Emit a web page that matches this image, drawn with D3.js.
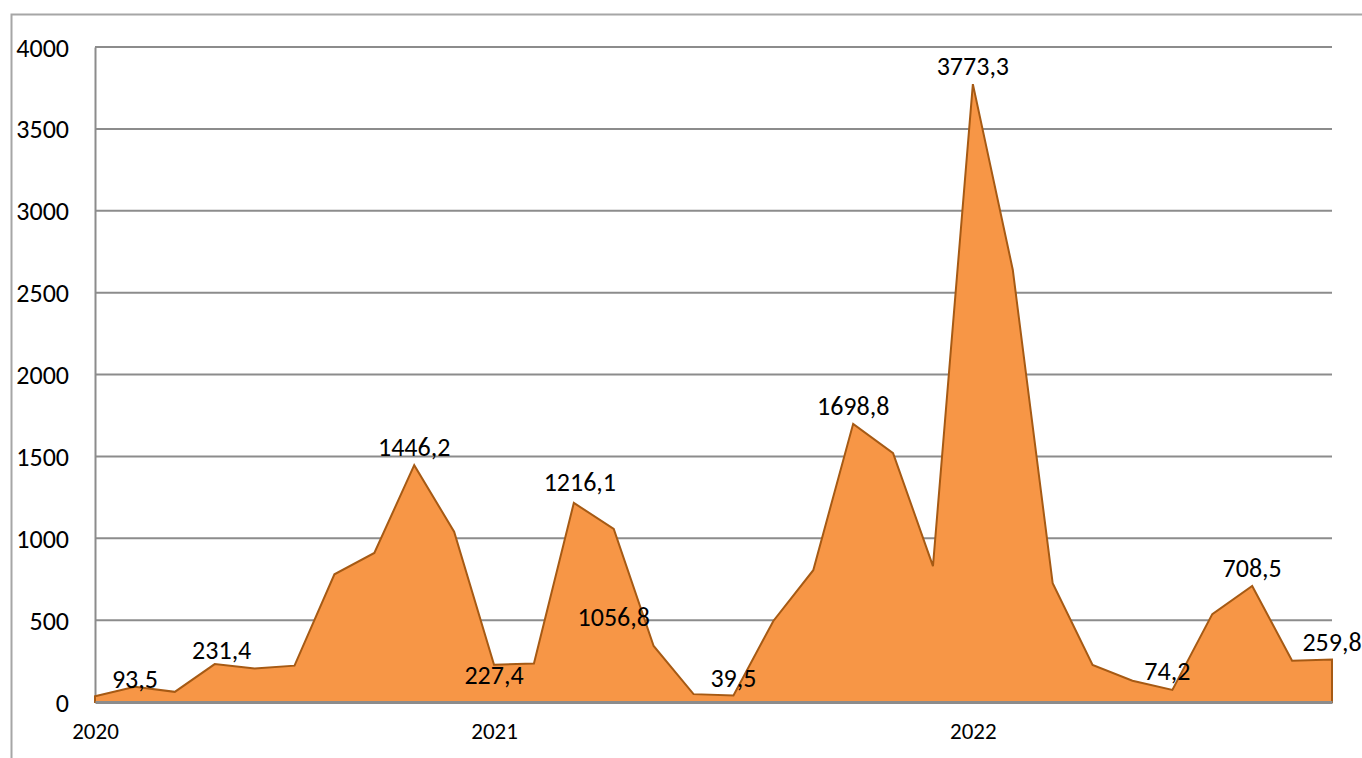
<!DOCTYPE html>
<html>
<head>
<meta charset="utf-8">
<script src="https://cdn.jsdelivr.net/npm/d3@7"></script>
<style>
  html, body { margin: 0; padding: 0; background: #fff; }
  svg text { font-family: Carlito, Calibri, Lato, "Open Sans", sans-serif; fill: #000; }
</style>
</head>
<body>
<svg id="chart" width="1362" height="758"></svg>
<script>
// category labels along the x axis (only some are shown)
const categories = ["2020", "", "", "", "", "", "", "", "", "",
                    "2021", "", "", "", "", "", "", "", "", "", "", "",
                    "2022", "", "", "", "", "", "", "", "", ""];

const values = [35, 93.5, 62, 231.4, 205, 222, 780, 910, 1446.2, 1040,
                227.4, 235, 1216.1, 1056.8, 342, 48, 39.5, 495, 805, 1698.8,
                1520, 830, 3773.3, 2640, 725, 226, 130, 74.2, 537, 708.5,
                252, 259.8];

// indices of the points that carry a data label
const labelled = [1, 3, 8, 10, 12, 13, 16, 19, 22, 27, 29, 31];

const yTicks = [0, 500, 1000, 1500, 2000, 2500, 3000, 3500, 4000];

const svg = d3.select("#chart");
const plotL = 95, plotR = 1332, plotT = 47, plotB = 702;

const x = d3.scalePoint()
    .domain(d3.range(values.length))
    .range([plotL, plotR]);

const y = d3.scaleLinear()
    .domain([0, 4000])
    .range([plotB, plotT]);

// outer chart frame (runs off the picture on the right and bottom)
svg.append("path")
    .attr("d", "M11.5,770 L11.5,14.5 L1375,14.5")
    .attr("fill", "none")
    .attr("stroke", "#a6a6a6")
    .attr("stroke-width", 2);

// gridlines
svg.append("g")
    .selectAll("line")
    .data(yTicks.filter(d => d > 0))
    .join("line")
    .attr("x1", plotL).attr("x2", plotR)
    .attr("y1", d => y(d)).attr("y2", d => y(d))
    .attr("stroke", "#8c8c8c")
    .attr("stroke-width", 2);

// y axis
const yAxis = svg.append("g")
    .attr("transform", `translate(${plotL},0)`)
    .call(d3.axisLeft(y).tickValues(yTicks).tickFormat(d3.format("d")).tickSize(0).tickPadding(26));
yAxis.select(".domain").attr("stroke", "#8c8c8c").attr("stroke-width", 2);
yAxis.selectAll("text")
    .attr("font-size", 26)
    .attr("dy", "0.35em");

// area
const area = d3.area()
    .x((d, i) => x(i))
    .y0(y(0))
    .y1(d => y(d));

svg.append("path")
    .datum(values)
    .attr("d", area)
    .attr("fill", "#f79646")
    .attr("stroke", "#a65a14")
    .attr("stroke-width", 2)
    .attr("stroke-linejoin", "miter");

// x axis
const xAxis = svg.append("g")
    .attr("transform", `translate(0,${plotB})`)
    .call(d3.axisBottom(x).tickSize(0).tickPadding(21).tickFormat(i => categories[i]));
xAxis.select(".domain").attr("stroke", "#8c8c8c").attr("stroke-width", 3);
xAxis.selectAll("text")
    .attr("font-size", 23)
    .attr("dy", "0.71em");

// data labels, mostly just above the point
const offsets = { 1: [0, -8], 3: [7, -14], 10: [0, 10], 12: [6, -21], 13: [0, 88], 27: [-5, -19] };
const fmt = v => d3.format(".1f")(v).replace(".", ",");

svg.append("g")
    .selectAll("text")
    .data(labelled)
    .join("text")
    .attr("x", i => x(i) + (offsets[i] ? offsets[i][0] : 0))
    .attr("y", i => y(values[i]) + (offsets[i] ? offsets[i][1] : -18))
    .attr("text-anchor", "middle")
    .attr("dy", "0.35em")
    .attr("font-size", 26)
    .text(i => fmt(values[i]));
</script>
</body>
</html>
